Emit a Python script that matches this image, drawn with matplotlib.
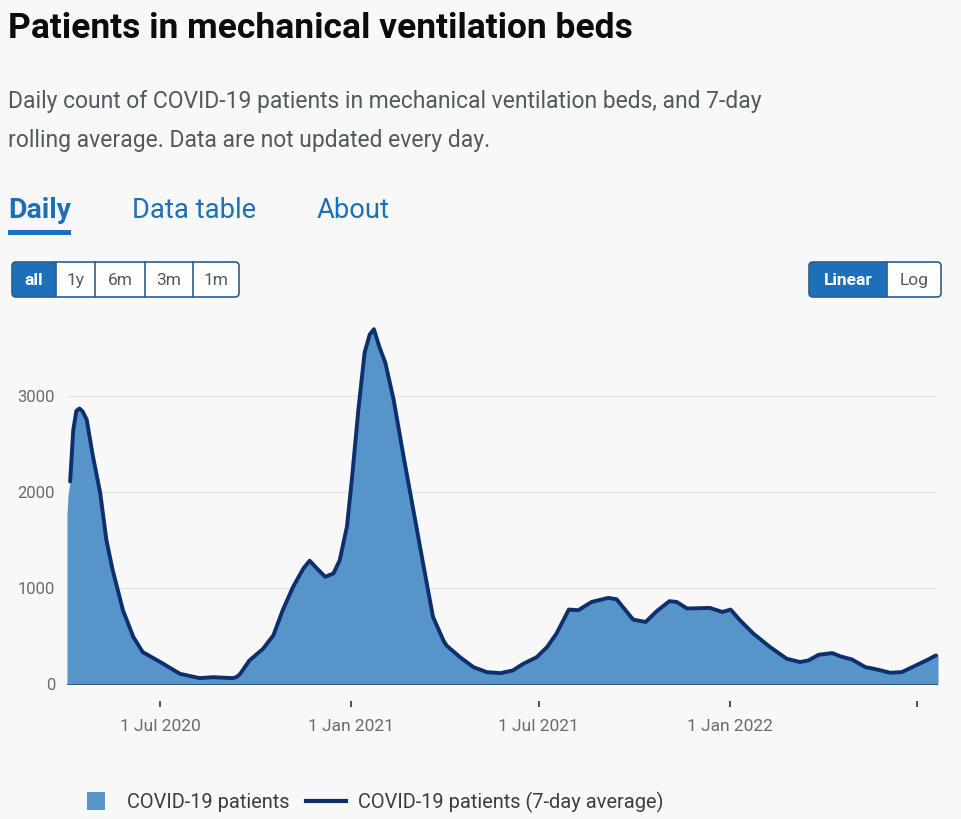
import matplotlib
matplotlib.use('Agg')
import matplotlib.pyplot as plt
from matplotlib.patches import FancyBboxPatch, Rectangle
from matplotlib.lines import Line2D
import pandas as pd

plt.rcParams['font.family'] = ['Roboto', 'DejaVu Sans']

# ---------------- data ----------------
avg_dates = [
    '2020-04-05', '2020-04-08', '2020-04-11', '2020-04-14', '2020-04-17', '2020-04-21',
    '2020-04-27', '2020-05-04', '2020-05-10', '2020-05-16', '2020-05-26', '2020-06-05',
    '2020-06-14', '2020-07-01', '2020-07-20', '2020-08-08', '2020-08-21', '2020-09-09',
    '2020-09-13', '2020-09-16', '2020-09-25', '2020-10-08', '2020-10-18', '2020-10-27',
    '2020-11-06', '2020-11-16', '2020-11-22', '2020-11-29', '2020-12-07', '2020-12-15',
    '2020-12-21', '2020-12-28', '2021-01-02', '2021-01-08', '2021-01-14', '2021-01-19',
    '2021-01-23', '2021-01-28', '2021-02-03', '2021-02-11', '2021-02-20', '2021-03-02',
    '2021-03-12', '2021-03-21', '2021-03-31', '2021-04-03', '2021-04-16', '2021-04-29',
    '2021-05-12', '2021-05-25', '2021-06-06', '2021-06-16', '2021-06-29', '2021-07-09',
    '2021-07-18', '2021-07-30', '2021-08-08', '2021-08-21', '2021-09-06', '2021-09-14',
    '2021-09-30', '2021-10-12', '2021-10-23', '2021-11-04', '2021-11-11', '2021-11-21',
    '2021-12-13', '2021-12-25', '2022-01-02', '2022-01-11', '2022-01-24', '2022-02-09',
    '2022-02-25', '2022-03-10', '2022-03-18', '2022-03-28', '2022-04-10', '2022-04-18',
    '2022-04-29', '2022-05-12', '2022-05-20', '2022-06-05', '2022-06-16', '2022-07-01',
    '2022-07-11', '2022-07-19',
]
avg_values = [
    2107, 2640, 2840, 2865, 2836, 2750,
    2370, 1990, 1500, 1190, 770, 493,
    337, 233, 111, 66, 76, 66,
    80, 111, 250, 370, 510, 770,
    1013, 1205, 1285, 1205, 1118, 1153,
    1290, 1640, 2160, 2854, 3445, 3635,
    3688, 3513, 3340, 2958, 2403, 1813,
    1222, 701, 458, 405, 284, 180,
    128, 118, 146, 215, 284, 389,
    528, 778, 771, 857, 899, 885,
    674, 649, 764, 865, 857, 789,
    795, 753, 778, 667, 528, 389,
    268, 233, 250, 309, 326, 292,
    260, 180, 164, 122, 128, 205,
    257, 302,
]
daily_head_dates = ['2020-04-02', '2020-04-03', '2020-04-04']
daily_head_values = [1780, 1960, 2040]
daily_tail_dates = ['2022-07-21']
daily_tail_values = [315]

ytick_values = [0, 1000, 2000, 3000]
xtick_dates = ['2020-07-01', '2021-01-01', '2021-07-01', '2022-01-01', '2022-07-01']
xtick_labels = ['1 Jul 2020', '1 Jan 2021', '1 Jul 2021', '1 Jan 2022', '']

title_text = 'Patients in mechanical ventilation beds'
subtitle_lines = ['Daily count of COVID-19 patients in mechanical ventilation beds, and 7-day',
                  'rolling average. Data are not updated every day.']
tab_labels = ['Daily', 'Data table', 'About']
range_buttons = ['all', '1y', '6m', '3m', '1m']
scale_buttons = ['Linear', 'Log']
legend_labels = ['COVID-19 patients', 'COVID-19 patients (7-day average)']

# ---------------- style ----------------
W, H = 962, 819
BG = '#f8f8f8'
FILL = '#5694ca'
LINE = '#0d2f6b'
BLUE = '#1d70b8'
GREY = '#505a5f'
BORDER = '#2d5d8c'

fig = plt.figure(figsize=(W / 100, H / 100), dpi=100, facecolor=BG)
ui = fig.add_axes([0, 0, 1, 1])
ui.set_xlim(0, W)
ui.set_ylim(H, 0)
ui.axis('off')
renderer = fig.canvas.get_renderer()


def put(x, y, s, size, target_w=None, **kw):
    kw.setdefault('va', 'baseline')
    t = ui.text(x, y, s, fontsize=size, **kw)
    if target_w:
        w = t.get_window_extent(renderer).width
        t.set_fontsize(size * target_w / w)
    return t


# title and subtitle
put(8, 38, title_text, 22, target_w=624, fontweight='bold', color='#0b0c0c')
put(8, 108, subtitle_lines[0], 14, target_w=760, color=GREY)
put(8, 147, subtitle_lines[1], 14, target_w=484, color=GREY)

# tabs
tab_x = [(8, 63), (132, 124), (317, 73)]
for lbl, (tx, tw) in zip(tab_labels, tab_x):
    put(tx, 218, lbl, 16, target_w=tw, color=BLUE,
        fontweight='bold' if lbl == 'Daily' else 'normal')
ui.add_patch(Rectangle((8, 230), 63, 5, color=BLUE, lw=0))


def button_group(x0, x1, y0, y1, dividers, labels, selected):
    h = y1 - y0
    edges = [x0] + dividers + [x1]
    ui.add_patch(FancyBboxPatch((x0, y0), x1 - x0, h, boxstyle='round,pad=0,rounding_size=4',
                                fc='white', ec='none', zorder=2))
    sx0, sx1 = edges[selected], edges[selected + 1]
    ui.add_patch(FancyBboxPatch((sx0, y0), sx1 - sx0, h, boxstyle='round,pad=0,rounding_size=4',
                                fc=BLUE, ec='none', zorder=3))
    if selected == 0:
        ui.add_patch(Rectangle((sx1 - 6, y0), 6, h, fc=BLUE, ec='none', zorder=3))
    for d in dividers:
        ui.plot([d, d], [y0, y1], color=BORDER, lw=1.2, zorder=4)
    ui.add_patch(FancyBboxPatch((x0, y0), x1 - x0, h, boxstyle='round,pad=0,rounding_size=4',
                                fc='none', ec=BORDER, lw=1.2, zorder=5))
    for i, lbl in enumerate(labels):
        cx = (edges[i] + edges[i + 1]) / 2
        sel = i == selected
        ui.text(cx, (y0 + y1) / 2 + 1, lbl, fontsize=12.5, ha='center', va='center',
                color='white' if sel else GREY, fontweight='bold' if sel else 'normal', zorder=6)


button_group(12, 239, 262, 297, [56, 95, 145, 193], range_buttons, 0)
button_group(809, 941, 262, 297, [887], scale_buttons, 0)

# legend
ui.add_patch(Rectangle((87, 792), 18, 18, fc=FILL, ec='none'))
put(127, 808, legend_labels[0], 12.5, target_w=163, color='#383f43')
ui.add_line(Line2D([306, 346], [801, 801], color=LINE, lw=3))
put(358, 808, legend_labels[1], 12.5, target_w=306, color='#383f43')

# ---------------- chart ----------------
left, right, bottom_px, top_px = 67, 938, 684.5, 310
ymax = (bottom_px - top_px) / (289.0 / 3000)
ax = fig.add_axes([left / W, 1 - bottom_px / H, (right - left) / W, (bottom_px - top_px) / H])
ax.set_facecolor('none')

d_avg = pd.to_datetime(avg_dates)
d_daily = pd.to_datetime(daily_head_dates + avg_dates + daily_tail_dates)
v_daily = daily_head_values + avg_values + daily_tail_values

ax.fill_between(d_daily, v_daily, 0, color=FILL, lw=0, zorder=2)
ax.plot(d_avg, avg_values, color=LINE, lw=2.8, solid_joinstyle='round',
        solid_capstyle='round', zorder=3)
ax.axhline(0, color='#2f4a66', lw=1.2, zorder=4)

ax.set_xlim(pd.Timestamp('2020-04-02'), pd.Timestamp('2022-07-21'))
ax.set_ylim(0, ymax)

ax.set_yticks(ytick_values)
ax.set_yticklabels([str(v) for v in ytick_values])
ax.yaxis.grid(True, color='#e5e5e5', lw=1)
ax.set_axisbelow(True)
ax.tick_params(axis='y', length=0, pad=8.5, labelsize=12, labelcolor='#6b6b6b')

ax.set_xticks(pd.to_datetime(xtick_dates))
ax.set_xticklabels(xtick_labels)
ax.tick_params(axis='x', length=4.5, width=1.2, color='#333333', pad=8,
               labelsize=12.5, labelcolor='#6b6b6b')
for s in ['top', 'right', 'left']:
    ax.spines[s].set_visible(False)
ax.spines['bottom'].set_position(('outward', 12))
ax.spines['bottom'].set_visible(False)

fig.savefig('out.png', dpi=100, facecolor=BG)
